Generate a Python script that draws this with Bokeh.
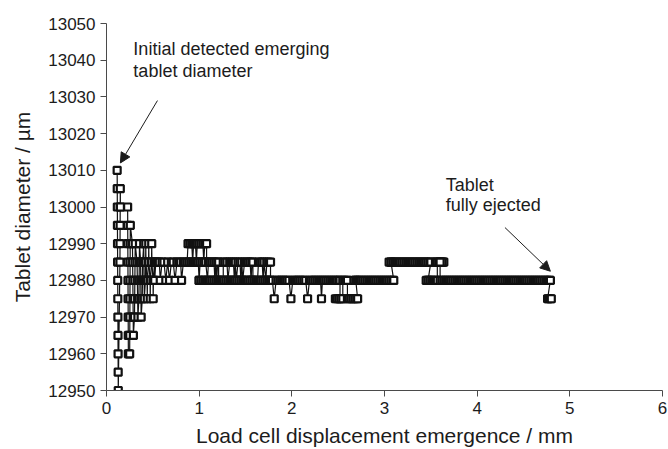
from bokeh.plotting import figure
from bokeh.models import ColumnDataSource, Range1d, FixedTicker, Arrow, NormalHead, Label
from bokeh.embed import file_html
from bokeh.resources import INLINE

# ---------------- data ----------------
x_ticks = [0, 1, 2, 3, 4, 5, 6]
y_ticks = [12950, 12960, 12970, 12980, 12990, 13000, 13010, 13020, 13030, 13040, 13050]

# early oscillation columns
x_a = [0.115, 0.116, 0.117, 0.118, 0.119, 0.120, 0.121, 0.122, 0.123, 0.124, 0.125, 0.126, 0.127]
y_a = [13010, 13005, 13000, 12995, 12990, 12985, 12980, 12975, 12970, 12965, 12960, 12955, 12950]
x_b = [0.145, 0.146, 0.147, 0.148, 0.149, 0.150]
y_b = [12985, 12990, 12995, 13000, 13005, 13000]
x_c2 = [0.228, 0.229, 0.230, 0.231, 0.232, 0.233, 0.234, 0.235, 0.236]
y_c2 = [13000, 12995, 12990, 12985, 12980, 12975, 12970, 12965, 12960]
x_c3 = [0.250, 0.251, 0.252, 0.253, 0.254, 0.255, 0.256, 0.257]
y_c3 = [12960, 12965, 12970, 12975, 12980, 12985, 12990, 12995]
x_c4 = [0.280, 0.282, 0.284, 0.286, 0.288, 0.290, 0.302, 0.304, 0.306, 0.308, 0.310]
y_c4 = [12990, 12985, 12980, 12975, 12970, 12965, 12970, 12975, 12980, 12985, 12990]
x_c5 = [0.330, 0.333, 0.336, 0.339, 0.350, 0.352, 0.354, 0.356, 0.368, 0.370,
        0.372, 0.374, 0.386, 0.388, 0.390, 0.402, 0.404, 0.406, 0.408]
y_c5 = [12985, 12980, 12975, 12970, 12975, 12980, 12985, 12990, 12985, 12980,
        12975, 12970, 12975, 12980, 12985, 12990, 12985, 12980, 12975]
x_c6 = [0.420, 0.422, 0.424, 0.426, 0.438, 0.440, 0.442, 0.454, 0.456, 0.458,
        0.470, 0.472, 0.474, 0.486, 0.488, 0.490, 0.502, 0.504, 0.506, 0.518,
        0.520, 0.532, 0.535]
y_c6 = [12980, 12985, 12990, 12985, 12980, 12975, 12980, 12985, 12990, 12985,
        12980, 12975, 12980, 12985, 12990, 12985, 12980, 12975, 12980, 12985,
        12980, 12985, 12985]

# settling around 12985 / 12980
x_c = [0.55, 0.57, 0.58, 0.60, 0.62, 0.64, 0.66, 0.68, 0.70, 0.72, 0.74, 0.76, 0.78, 0.80, 0.81, 0.83, 0.85, 0.87]
y_c = [12985, 12985, 12980, 12985, 12985, 12980, 12985, 12980, 12985, 12985, 12980, 12985, 12985, 12985, 12980, 12985, 12985, 12985]
x_d = [0.88, 0.90, 0.92, 0.93, 0.94, 0.96, 0.97, 0.98, 1.00, 1.02, 1.04, 1.05, 1.06, 1.08, 1.08, 0.89]
y_d = [12990, 12990, 12990, 12985, 12990, 12990, 12985, 12990, 12990, 12990, 12990, 12985, 12990, 12990, 12985, 12985]
x_e = [0.91, 0.93, 0.95, 0.97, 0.99, 1.00, 1.01, 1.03, 1.05, 1.07, 1.09, 1.10, 1.12, 1.14, 1.16, 1.17, 1.18, 1.19, 1.20, 1.21, 1.21, 1.00]
y_e = [12985, 12985, 12985, 12985, 12985, 12980, 12985, 12985, 12985, 12985, 12980, 12985, 12985, 12985, 12985, 12980, 12985, 12980, 12985, 12985, 12980, 12980]
x_f = [1.02, 1.04, 1.06, 1.08, 1.10, 1.12, 1.14, 1.16, 1.18, 1.20, 1.22, 1.24, 1.26]
y_f = [12980, 12980, 12980, 12980, 12980, 12980, 12980, 12980, 12980, 12980, 12980, 12980, 12980]
x_g = [1.26, 1.28, 1.30, 1.31, 1.33, 1.35, 1.37, 1.38, 1.39, 1.40,
       1.42, 1.44, 1.45, 1.46, 1.47, 1.49, 1.51, 1.53, 1.55, 1.56,
       1.57, 1.58, 1.58, 1.27]
y_g = [12985, 12985, 12985, 12980, 12985, 12985, 12985, 12980, 12985, 12980,
       12985, 12985, 12980, 12985, 12980, 12985, 12985, 12985, 12985, 12980,
       12985, 12985, 12980, 12980]
x_h = [1.29, 1.31, 1.33, 1.35, 1.37, 1.39, 1.41, 1.43, 1.45, 1.47, 1.49, 1.51, 1.53, 1.55, 1.57, 1.59, 1.61, 1.63]
y_h = [12980, 12980, 12980, 12980, 12980, 12980, 12980, 12980, 12980, 12980, 12980, 12980, 12980, 12980, 12980, 12980, 12980, 12980]
x_i = [1.64, 1.66, 1.68, 1.69, 1.70, 1.72, 1.73, 1.75, 1.77, 1.77, 1.65]
y_i = [12985, 12985, 12985, 12980, 12985, 12980, 12985, 12985, 12985, 12980, 12980]
x_j = [1.67, 1.69, 1.71, 1.73, 1.75, 1.77, 1.79, 1.81,
       1.83, 1.85, 1.87, 1.89, 1.91, 1.93, 1.95, 1.97, 1.99,
       2.01, 2.03, 2.05, 2.07, 2.09, 2.11, 2.13, 2.15, 2.17,
       2.19, 2.21, 2.23, 2.25, 2.27, 2.29, 2.31, 2.32,
       2.33, 2.35, 2.37, 2.39, 2.41, 2.43, 2.45, 2.47, 2.49, 2.51, 2.52]
y_j = [12980, 12980, 12980, 12980, 12980, 12980, 12980, 12975,
       12980, 12980, 12980, 12980, 12980, 12980, 12980, 12980, 12975,
       12980, 12980, 12980, 12980, 12980, 12980, 12980, 12980, 12975,
       12980, 12980, 12980, 12980, 12980, 12980, 12980, 12975,
       12980, 12980, 12980, 12980, 12980, 12980, 12980, 12980, 12980, 12980, 12980]
x_k = [2.52, 2.47, 2.49, 2.51, 2.53, 2.55, 2.55, 2.57, 2.59, 2.60, 2.60, 2.62, 2.64, 2.66, 2.68, 2.70, 2.71, 2.69, 2.67]
y_k = [12975, 12975, 12975, 12975, 12975, 12975, 12980, 12980, 12980, 12980, 12975, 12975, 12975, 12975, 12975, 12975, 12975, 12980, 12980]
x_l = [2.69, 2.71, 2.73, 2.75, 2.77, 2.79, 2.81, 2.83, 2.85, 2.87, 2.89,
       2.91, 2.93, 2.95, 2.97, 2.99, 3.01, 3.03, 3.05, 3.07, 3.09, 3.10]
y_l = [12980, 12980, 12980, 12980, 12980, 12980, 12980, 12980, 12980, 12980, 12980,
       12980, 12980, 12980, 12980, 12980, 12980, 12980, 12980, 12980, 12980, 12980]
x_m = [3.07, 3.05, 3.07, 3.09, 3.11, 3.13, 3.15, 3.17, 3.19, 3.21, 3.23, 3.25, 3.27,
       3.29, 3.31, 3.33, 3.35, 3.37, 3.39, 3.41, 3.43, 3.45, 3.47, 3.49, 3.50, 3.47, 3.45]
y_m = [12985, 12985, 12985, 12985, 12985, 12985, 12985, 12985, 12985, 12985, 12985, 12985, 12985,
       12985, 12985, 12985, 12985, 12985, 12985, 12985, 12985, 12985, 12985, 12985, 12985, 12980, 12980]
x_n = [3.47, 3.49, 3.51, 3.53, 3.55, 3.57, 3.57, 3.55, 3.57, 3.59, 3.61, 3.63, 3.64, 3.62, 3.60, 3.60]
y_n = [12980, 12980, 12980, 12980, 12980, 12980, 12985, 12985, 12985, 12985, 12985, 12985, 12985, 12985, 12985, 12980]
x_o = [3.62, 3.64, 3.66, 3.68, 3.70, 3.72, 3.74, 3.76, 3.78, 3.80,
       3.82, 3.84, 3.86, 3.88, 3.90, 3.92, 3.94, 3.96, 3.98, 4.00,
       4.02, 4.04, 4.06, 4.08, 4.10, 4.12, 4.14, 4.16, 4.18, 4.20,
       4.22, 4.24, 4.26, 4.28, 4.30, 4.32, 4.34, 4.36, 4.38, 4.40,
       4.42, 4.44, 4.46, 4.48, 4.50, 4.52, 4.54, 4.56, 4.58, 4.60,
       4.62, 4.64, 4.66, 4.68, 4.70, 4.72, 4.74, 4.76, 4.78, 4.79]
y_o = [12980, 12980, 12980, 12980, 12980, 12980, 12980, 12980, 12980, 12980,
       12980, 12980, 12980, 12980, 12980, 12980, 12980, 12980, 12980, 12980,
       12980, 12980, 12980, 12980, 12980, 12980, 12980, 12980, 12980, 12980,
       12980, 12980, 12980, 12980, 12980, 12980, 12980, 12980, 12980, 12980,
       12980, 12980, 12980, 12980, 12980, 12980, 12980, 12980, 12980, 12980,
       12980, 12980, 12980, 12980, 12980, 12980, 12980, 12980, 12980, 12980]
x_p = [4.76, 4.77, 4.79, 4.80]
y_p = [12975, 12975, 12975, 12975]

x_mm = (x_a + x_b + x_c2 + x_c3 + x_c4 + x_c5 + x_c6 + x_c + x_d + x_e + x_f + x_g + x_h
        + x_i + x_j + x_k + x_l + x_m + x_n + x_o + x_p)
d_um = (y_a + y_b + y_c2 + y_c3 + y_c4 + y_c5 + y_c6 + y_c + y_d + y_e + y_f + y_g + y_h
        + y_i + y_j + y_k + y_l + y_m + y_n + y_o + y_p)

# ---------------- figure ----------------
FONT = "Liberation Sans"
INK = "#1c1c1c"
AX = "#4a4a4a"

p = figure(width=668, height=449, output_backend="svg", toolbar_location=None,
           x_range=Range1d(0, 6), y_range=Range1d(12950, 13050),
           min_border_left=106, min_border_right=6, min_border_top=23, min_border_bottom=57)
p.xgrid.visible = False
p.ygrid.visible = False
p.outline_line_color = None
p.background_fill_color = "white"
p.border_fill_color = "white"

src = ColumnDataSource(dict(x=x_mm, y=d_um))
p.line("x", "y", source=src, line_color="#111111", line_width=1.2)
p.scatter("x", "y", source=src, marker="square", size=7, fill_color="white",
          line_color="#111111", line_width=2.2)

for ax in (p.xaxis[0], p.yaxis[0]):
    ax.axis_line_color = AX
    ax.major_tick_line_color = AX
    ax.minor_tick_line_color = None
    ax.major_tick_in = 0
    ax.major_tick_out = 6
    ax.major_label_text_font = FONT
    ax.major_label_text_font_size = "17px"
    ax.major_label_text_color = INK
    ax.axis_label_text_font = FONT
    ax.axis_label_text_font_size = "21px"
    ax.axis_label_text_font_style = "normal"
    ax.axis_label_text_color = INK
    ax.major_label_standoff = 5

p.xaxis.ticker = FixedTicker(ticks=x_ticks)
p.yaxis.ticker = FixedTicker(ticks=y_ticks)
p.xaxis.axis_label = "Load cell displacement emergence / mm"
p.yaxis.axis_label = "Tablet diameter / µm"
p.xaxis.axis_label_standoff = 7
p.yaxis.axis_label_standoff = 11

# annotations
for txt, yy in (("Initial detected emerging", 13043), ("tablet diameter", 13037)):
    p.add_layout(Label(x=0.29, y=yy, text=txt, text_font=FONT, text_font_size="18px",
                       text_color=INK, text_baseline="middle", text_align="left"))
for txt, yy in (("Tablet", 13006), ("fully ejected", 13000.5)):
    p.add_layout(Label(x=3.66, y=yy, text=txt, text_font=FONT, text_font_size="18px",
                       text_color=INK, text_baseline="middle", text_align="left"))

p.add_layout(Arrow(end=NormalHead(size=10, fill_color=INK, line_color=INK),
                   x_start=0.55, y_start=13029, x_end=0.15, y_end=13012,
                   line_color=INK, line_width=1))
p.add_layout(Arrow(end=NormalHead(size=10, fill_color=INK, line_color=INK),
                   x_start=4.30, y_start=12994.4, x_end=4.79, y_end=12982.5,
                   line_color=INK, line_width=1))

open("out.html", "w").write(file_html(p, INLINE))
